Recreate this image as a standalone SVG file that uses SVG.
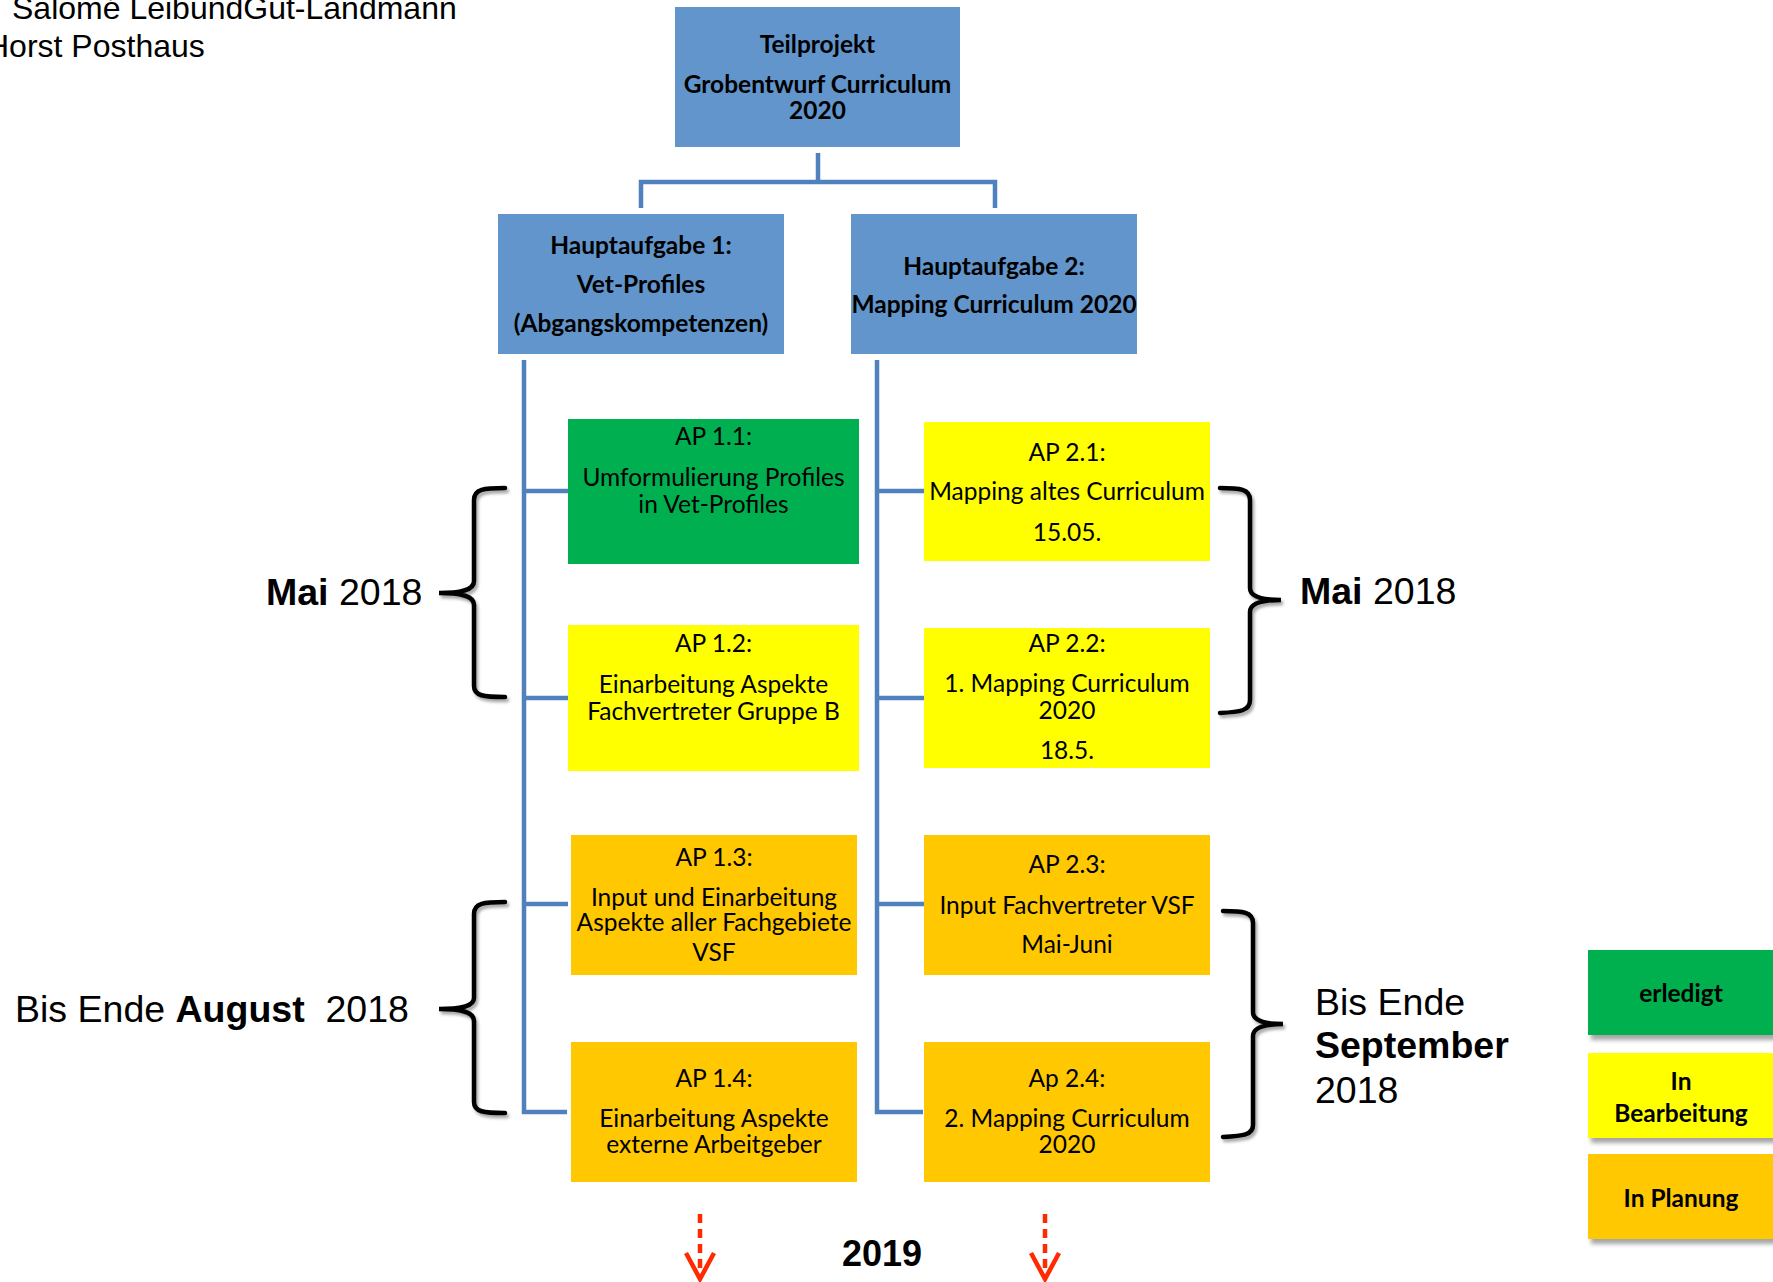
<svg xmlns="http://www.w3.org/2000/svg" width="1773" height="1282" viewBox="0 0 1773 1282">
<style>
.box{stroke:none}
.blue{fill:#6195CB}
.green{fill:#00B050}
.yellow{fill:#FFFF00}
.orange{fill:#FFC800}
.t{font-family:Lato,"Open Sans","DejaVu Sans",sans-serif;font-size:24.5px;fill:#000;text-anchor:middle}
.b{font-weight:bold}
.a{font-family:"Liberation Sans",Arial,sans-serif;fill:#000}
.lbl{font-size:37.5px}
.au{font-size:32px}
.conn{fill:none;stroke:#4F81BD;stroke-width:4.5}
.brace{fill:none;stroke:#000;stroke-width:4.5;stroke-linecap:round}
.red{fill:none;stroke:#FF2A00;stroke-width:4.5}
</style>
<defs>
<filter id="sh" x="-20%" y="-20%" width="150%" height="150%">
<feDropShadow dx="3" dy="5" stdDeviation="2" flood-color="#000" flood-opacity="0.35"/>
</filter>
<filter id="bsh" x="-50%" y="-20%" width="200%" height="150%">
<feDropShadow dx="2" dy="3" stdDeviation="1.5" flood-color="#000" flood-opacity="0.35"/>
</filter>
</defs>
<rect width="1773" height="1282" fill="#fff"/>

<g id="authors">
<text class="a au" x="12" y="19">Salomé LeibundGut-Landmann</text>
<text class="a au" x="-14" y="57">Horst Posthaus</text>
</g>

<g id="connectors">
<path class="conn" d="M818,153 V182 M641,208 V182 H995 V208"/>
<path class="conn" d="M524,360 V1112 H567 M524,491 H568 M524,698 H568 M524,904 H568"/>
<path class="conn" d="M877,360 V1112 H923 M877,491 H924 M877,698 H924 M877,904 H924"/>
</g>

<g id="teilprojekt">
<rect class="box blue" x="675" y="7" width="285" height="140"/>
<text class="t b" x="817.5" y="53">Teilprojekt</text>
<text class="t b" x="817.5" y="93">Grobentwurf Curriculum</text>
<text class="t b" x="817.5" y="119">2020</text>
</g>

<g id="hauptaufgabe1">
<rect class="box blue" x="498" y="214" width="286" height="140"/>
<text class="t b" x="641" y="254">Hauptaufgabe 1:</text>
<text class="t b" x="641" y="293">Vet-Profiles</text>
<text class="t b" x="641" y="332">(Abgangskompetenzen)</text>
</g>

<g id="hauptaufgabe2">
<rect class="box blue" x="851" y="214" width="286" height="140"/>
<text class="t b" x="994" y="275">Hauptaufgabe 2:</text>
<text class="t b" x="994" y="313">Mapping Curriculum 2020</text>
</g>

<g id="ap11">
<rect class="box green" x="568" y="419" width="291" height="145"/>
<text class="t" x="713.5" y="445">AP 1.1:</text>
<text class="t" x="713.5" y="486">Umformulierung Profiles</text>
<text class="t" x="713.5" y="513">in Vet-Profiles</text>
</g>

<g id="ap12">
<rect class="box yellow" x="568" y="625" width="291" height="146"/>
<text class="t" x="713.5" y="652">AP 1.2:</text>
<text class="t" x="713.5" y="693">Einarbeitung Aspekte</text>
<text class="t" x="713.5" y="720">Fachvertreter Gruppe B</text>
</g>

<g id="ap13">
<rect class="box orange" x="571" y="835" width="286" height="140"/>
<text class="t" x="714" y="866">AP 1.3:</text>
<text class="t" x="714" y="906">Input und Einarbeitung</text>
<text class="t" x="714" y="931">Aspekte aller Fachgebiete</text>
<text class="t" x="714" y="961">VSF</text>
</g>

<g id="ap14">
<rect class="box orange" x="571" y="1042" width="286" height="140"/>
<text class="t" x="714" y="1087">AP 1.4:</text>
<text class="t" x="714" y="1127">Einarbeitung Aspekte</text>
<text class="t" x="714" y="1153">externe Arbeitgeber</text>
</g>

<g id="ap21">
<rect class="box yellow" x="924" y="422" width="286" height="139"/>
<text class="t" x="1067" y="461">AP 2.1:</text>
<text class="t" x="1067" y="500">Mapping altes Curriculum</text>
<text class="t" x="1067" y="541">15.05.</text>
</g>

<g id="ap22">
<rect class="box yellow" x="924" y="628" width="286" height="140"/>
<text class="t" x="1067" y="652">AP 2.2:</text>
<text class="t" x="1067" y="692">1. Mapping Curriculum</text>
<text class="t" x="1067" y="719">2020</text>
<text class="t" x="1067" y="759">18.5.</text>
</g>

<g id="ap23">
<rect class="box orange" x="924" y="835" width="286" height="140"/>
<text class="t" x="1067" y="873">AP 2.3:</text>
<text class="t" x="1067" y="914">Input Fachvertreter VSF</text>
<text class="t" x="1067" y="953">Mai-Juni</text>
</g>

<g id="ap24">
<rect class="box orange" x="924" y="1042" width="286" height="140"/>
<text class="t" x="1067" y="1087">Ap 2.4:</text>
<text class="t" x="1067" y="1127">2. Mapping Curriculum</text>
<text class="t" x="1067" y="1153">2020</text>
</g>

<g id="braces" filter="url(#bsh)">
<path class="brace" d="M505,488 C484,488 474,489 474,500 L474,581 C474,590 462,593 439,593 C462,593 474,596 474,605 L474,686 C474,696 484,697 505,697"/>
<path class="brace" d="M505,902 C484,902 474,903 474,914 L474,998 C474,1006 462,1009 439,1009 C462,1009 474,1012 474,1021 L474,1102 C474,1112 484,1113 505,1113"/>
<path class="brace" d="M1220,488 C1240,488 1250,489 1250,500 L1250,588 C1250,597 1262,600 1281,600 C1262,600 1250,603 1250,612 L1250,700 C1250,711 1240,712 1220,713"/>
<path class="brace" d="M1223,911 C1243,911 1253,912 1253,923 L1253,1012 C1253,1021 1265,1024 1283,1024 C1265,1024 1253,1027 1253,1036 L1253,1125 C1253,1135 1243,1136 1223,1137"/>
</g>

<g id="labels">
<text class="a lbl" x="266" y="605"><tspan font-weight="bold">Mai</tspan> 2018</text>
<text class="a lbl" x="1300" y="604"><tspan font-weight="bold">Mai</tspan> 2018</text>
<text class="a lbl" x="15" y="1022" xml:space="preserve">Bis Ende <tspan font-weight="bold">August</tspan>  2018</text>
<text class="a lbl" x="1315" y="1015">Bis Ende</text>
<text class="a lbl" x="1315" y="1058" font-weight="bold">September</text>
<text class="a lbl" x="1315" y="1103">2018</text>
<text class="a" x="842" y="1266" style="font-size:36px" font-weight="bold">2019</text>
</g>

<g id="arrows">
<path class="red" d="M700,1214 V1272" stroke-dasharray="9,6"/>
<path class="red" d="M686,1253 L700,1279 L714,1253"/>
<path class="red" d="M1045,1214 V1272" stroke-dasharray="9,6"/>
<path class="red" d="M1031,1253 L1045,1279 L1059,1253"/>
</g>

<g id="legend-erledigt">
<rect class="box green" x="1588" y="950" width="190" height="85" filter="url(#sh)"/>
<text class="t b" x="1681" y="1002">erledigt</text>
</g>
<g id="legend-bearbeitung">
<rect class="box yellow" x="1588" y="1053" width="190" height="85" filter="url(#sh)"/>
<text class="t b" x="1681" y="1090">In</text>
<text class="t b" x="1681" y="1122">Bearbeitung</text>
</g>
<g id="legend-planung">
<rect class="box orange" x="1588" y="1154" width="190" height="85" filter="url(#sh)"/>
<text class="t b" x="1681" y="1207">In Planung</text>
</g>
</svg>
